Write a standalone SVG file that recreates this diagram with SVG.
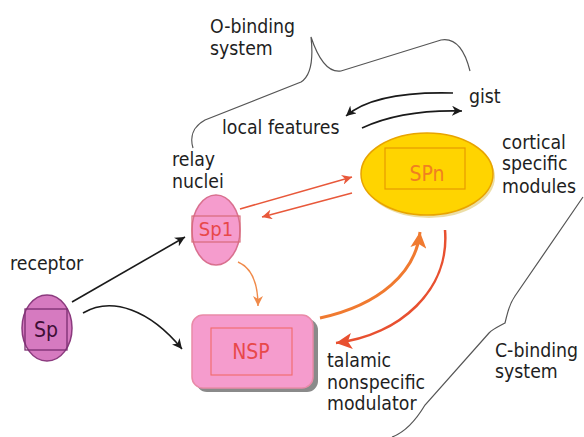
<svg xmlns="http://www.w3.org/2000/svg" width="584" height="437" viewBox="0 0 584 437">
<style>
.t{font-family:"DejaVu Sans Condensed","DejaVu Sans",Verdana,sans-serif;font-stretch:condensed;font-size:19.3px;fill:#1e1e1e}
.nl{font-family:"DejaVu Sans Condensed","DejaVu Sans",Verdana,sans-serif;font-stretch:condensed;font-size:21px;text-anchor:middle}
.brace{fill:none;stroke:#555;stroke-width:1.2}
.blk{fill:none;stroke:#1a1a1a;stroke-width:1.6}
.red{fill:none;stroke:#e8583a;stroke-width:1.6}
.org{fill:none;stroke:#f08a4a;stroke-width:1.4}
</style>
<defs>
<marker id="ab" markerUnits="userSpaceOnUse" markerWidth="12" markerHeight="10" refX="10" refY="5" orient="auto"><path d="M0,0 L10,5 L0,10 L3,5 Z" fill="#1a1a1a"/></marker>
<marker id="ar" markerUnits="userSpaceOnUse" markerWidth="12" markerHeight="10" refX="10" refY="5" orient="auto"><path d="M0,0 L10,5 L0,10 L3,5 Z" fill="#e8583a"/></marker>
<marker id="ao" markerUnits="userSpaceOnUse" markerWidth="12" markerHeight="10" refX="10" refY="5" orient="auto"><path d="M0,0 L10,5 L0,10 L3,5 Z" fill="#f08a4a"/></marker>
<marker id="aO" markerUnits="userSpaceOnUse" markerWidth="18" markerHeight="16" refX="16" refY="8" orient="auto"><path d="M0,0 L16,8 L0,16 L4,8 Z" fill="#f07a30"/></marker>
<marker id="aR" markerUnits="userSpaceOnUse" markerWidth="18" markerHeight="16" refX="16" refY="8" orient="auto"><path d="M0,0 L16,8 L0,16 L4,8 Z" fill="#e85030"/></marker>
</defs>

<g id="labels">
<text class="t" x="210" y="33">O-binding</text>
<text class="t" x="210" y="55">system</text>
<text class="t" x="469" y="103">gist</text>
<text class="t" x="222" y="134">local features</text>
<text class="t" x="172" y="166">relay</text>
<text class="t" x="172" y="188">nuclei</text>
<text class="t" x="502" y="149">cortical</text>
<text class="t" x="502" y="170">specific</text>
<text class="t" x="502" y="192.5">modules</text>
<text class="t" x="10" y="270">receptor</text>
<text class="t" x="327" y="367">talamic</text>
<text class="t" x="327" y="389">nonspecific</text>
<text class="t" x="327" y="410">modulator</text>
<text class="t" x="495" y="357">C-binding</text>
<text class="t" x="495" y="378">system</text>
</g>

<g id="braces">
<path class="brace" d="M470,71 C466,55 458,37 441,40 L341,71 C328,73 318,58 311,37 C313,55 312,75 301,82 L205,120 C192,127 190,138 193,148"/>
<path class="brace" d="M583,197 L515,296 C508,306 507,316 505,323 C500,326 494,328 489,333 L425,405 C416,420 406,432 392,437"/>
</g>

<g id="node-sp">
<ellipse cx="47" cy="328" rx="25" ry="33" fill="#d67ac0" stroke="#8b3a7e" stroke-width="1.5"/>
<rect x="25" y="309" width="42" height="41" fill="none" stroke="#7a2d70" stroke-width="1.3"/>
<text class="nl" x="46" y="337" fill="#3e0f36">Sp</text>
</g>

<g id="node-sp1">
<ellipse cx="216" cy="230" rx="24" ry="35" fill="#f59ccd" stroke="#d9708f" stroke-width="1.5"/>
<rect x="192" y="216" width="48" height="26" fill="none" stroke="#d86a7a" stroke-width="1.2"/>
<text class="nl" x="216" y="236" fill="#e8484a" style="font-size:20px">Sp1</text>
</g>

<g id="node-spn">
<ellipse cx="429" cy="177" rx="66" ry="41" fill="#c9a000" opacity="0.35"/>
<ellipse cx="427" cy="174" rx="66" ry="41" fill="#ffd400" stroke="#e8a400" stroke-width="1.5"/>
<rect x="385" y="148" width="80" height="41" fill="none" stroke="#e69a00" stroke-width="1.2"/>
<text class="nl" x="427" y="181" fill="#f08020">SPn</text>
</g>

<g id="node-nsp">
<rect x="196" y="319" width="122" height="73" rx="11" fill="#8a8a8a"/>
<rect x="192" y="315" width="121" height="73" rx="11" fill="#f59ccd" stroke="#e98aa8" stroke-width="1.5"/>
<rect x="211" y="328" width="81" height="47" fill="none" stroke="#f06a6a" stroke-width="1.1"/>
<text class="nl" x="251" y="359" fill="#e8484a">NSP</text>
</g>

<g id="connectors">
<path class="blk" d="M72,302 L185,237" marker-end="url(#ab)"/>
<path class="blk" d="M83,313 C112,296 150,310 182,349" marker-end="url(#ab)"/>
<path class="blk" d="M453,93 C415,92 370,95 346,116" marker-end="url(#ab)"/>
<path class="blk" d="M362,128 C392,114 425,110 462,111" marker-end="url(#ab)"/>
<path class="red" d="M240,209 L352,177" marker-end="url(#ar)"/>
<path class="red" d="M352,193 L262,217" marker-end="url(#ar)"/>
<path class="org" d="M238,262 C252,268 258,285 258,306" marker-end="url(#ao)"/>
<path fill="none" stroke="#f07a30" stroke-width="3" d="M320,318 C380,305 416,272 420,232" marker-end="url(#aO)"/>
<path fill="none" stroke="#e85030" stroke-width="2.5" d="M445,230 C450,290 400,335 336,343" marker-end="url(#aR)"/>
</g>
</svg>
